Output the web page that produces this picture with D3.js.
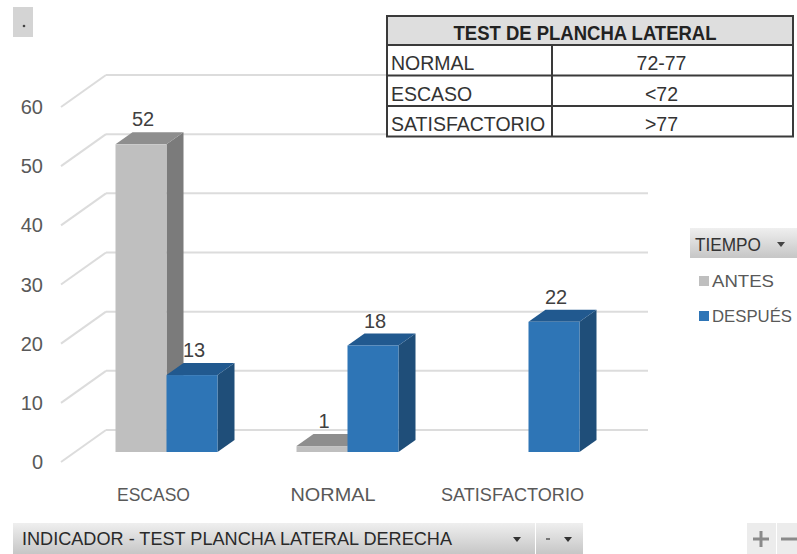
<!DOCTYPE html>
<html>
<head>
<meta charset="utf-8">
<script src="https://cdn.jsdelivr.net/npm/d3@7"></script>
<style>
  html, body { margin: 0; padding: 0; background: #fff; }
  svg { display: block; font-family: "Liberation Sans", Arial, sans-serif; }
</style>
</head>
<body>
<svg id="chart" width="797" height="554"></svg>
<script>
// Pivot chart data: test de plancha lateral, antes / después
const categories = ["ESCASO", "NORMAL", "SATISFACTORIO"];
const series = ["ANTES", "DESPUÉS"];
const antes = [52, 1, null];
const despues = [13, 18, 22];
const yTicks = [0, 10, 20, 30, 40, 50, 60];

// Reference table rows
const tableTitle = "TEST DE PLANCHA LATERAL";
const tableLabels = ["NORMAL", "ESCASO", "SATISFACTORIO"];
const tableRanges = ["72-77", "<72", ">77"];

const filterLabel = "INDICADOR - TEST PLANCHA LATERAL DERECHA";
const legendTitle = "TIEMPO";

const svg = d3.select("#chart");

const colors = {
  ANTES:     { front: "#bfbfbf", top: "#8e8e8e", side: "#7b7b7b" },
  "DESPUÉS": { front: "#2e75b6", top: "#21598f", side: "#1f4e79" }
};

// 3D depth offset for the bar boxes
const depthX = 17, depthY = -12;

const y = d3.scaleLinear().domain([0, 60]).range([452, 97]);
const x0 = d3.scaleBand().domain(categories).range([76, 619]).paddingInner(0).paddingOuter(0);
const barW = 51;
const x1 = d3.scaleBand().domain(series).range([0, barW * 2]);

// Back-wall gridlines with perspective floor diagonals
const grid = svg.append("g").attr("stroke", "#dcdcdc").attr("stroke-width", 2).attr("fill", "none");
yTicks.forEach(v => {
  const yb = y(v) - 22;
  grid.append("line").attr("x1", 61).attr("y1", y(v) + 10).attr("x2", 106).attr("y2", yb);
  grid.append("line").attr("x1", 106).attr("y1", yb).attr("x2", 648).attr("y2", yb);
});

// Y axis labels
svg.append("g").selectAll("text").data(yTicks).join("text")
  .attr("x", 43).attr("y", d => y(d) + 17)
  .attr("text-anchor", "end")
  .attr("font-size", 20).attr("fill", "#595959")
  .text(d => d);

// Bars as 3D boxes
const rows = [];
categories.forEach((c, i) => {
  [["ANTES", antes[i]], ["DESPUÉS", despues[i]]].forEach(([s, v]) => {
    if (v == null) return;
    rows.push({ c, s, v });
  });
});

const bars = svg.append("g");
rows.forEach(d => {
  const left = x0(d.c) + x0.bandwidth() / 2 - barW + x1(d.s);
  const right = left + x1.bandwidth();
  const top = y(d.v), bottom = y(0);
  const col = colors[d.s];
  const g = bars.append("g");
  g.append("path")
    .attr("d", `M${right},${bottom} L${right + depthX},${bottom + depthY} L${right + depthX},${top + depthY} L${right},${top} Z`)
    .attr("fill", col.side);
  g.append("path")
    .attr("d", `M${left},${top} L${left + depthX},${top + depthY} L${right + depthX},${top + depthY} L${right},${top} Z`)
    .attr("fill", col.top);
  g.append("rect")
    .attr("x", left).attr("y", top)
    .attr("width", right - left).attr("height", bottom - top)
    .attr("fill", col.front);
  g.append("text")
    .attr("x", (left + right) / 2 + 2).attr("y", top - 18)
    .attr("text-anchor", "middle")
    .attr("font-size", 20).attr("fill", "#404040")
    .text(d.v);
});

// Category labels (condensed to the pivot chart's narrow face)
const catWidths = [73, 85, 143];
svg.append("g").selectAll("text").data(categories).join("text")
  .attr("x", (d, i) => x0(d) + x0.bandwidth() / 2 - 13 - i * 1.5)
  .attr("y", 501)
  .attr("text-anchor", "middle")
  .attr("font-size", 19).attr("fill", "#595959")
  .attr("textLength", (d, i) => catWidths[i]).attr("lengthAdjust", "spacingAndGlyphs")
  .text(d => d);

// Reference table
const tbl = svg.append("g").attr("font-size", 19.5).attr("fill", "#1a1a1a");
const tX = 387, tR = 793, tDiv = 552, tTop = 16, tHead = 45;
const rowH = 30.5;
tbl.append("rect").attr("x", tX).attr("y", tTop).attr("width", tR - tX).attr("height", tHead - tTop)
  .attr("fill", "#dedede");
tbl.append("rect").attr("x", tX).attr("y", tHead).attr("width", tR - tX).attr("height", rowH * 3)
  .attr("fill", "#fff");
tbl.append("text").attr("x", (tX + tR) / 2 - 5).attr("y", tHead - 5).attr("text-anchor", "middle")
  .attr("font-weight", "bold").attr("fill", "#222")
  .attr("textLength", 263).attr("lengthAdjust", "spacingAndGlyphs").text(tableTitle);
tableLabels.forEach((lab, i) => {
  const ry = tHead + i * rowH;
  tbl.append("text").attr("x", tX + 4).attr("y", ry + 25).attr("fill", "#333").text(lab);
  tbl.append("text").attr("x", (tDiv + tR) / 2 - 11).attr("y", ry + 25).attr("text-anchor", "middle").attr("fill", "#333").text(tableRanges[i]);
});
const tl = svg.append("g").attr("stroke", "#3a3a3a").attr("stroke-width", 2).attr("fill", "none");
tl.append("rect").attr("x", tX).attr("y", tTop).attr("width", tR - tX).attr("height", tHead - tTop + rowH * 3);
[0, 1, 2].forEach(i => {
  tl.append("line").attr("x1", tX).attr("x2", tR).attr("y1", tHead + i * rowH).attr("y2", tHead + i * rowH);
});
tl.append("line").attr("x1", tDiv).attr("x2", tDiv).attr("y1", tHead).attr("y2", tHead + rowH * 3);

// Gradients for the pivot buttons
const defs = svg.append("defs");
const grad = defs.append("linearGradient").attr("id", "btn").attr("x1", 0).attr("y1", 0).attr("x2", 0).attr("y2", 1);
grad.append("stop").attr("offset", "0%").attr("stop-color", "#efefef");
grad.append("stop").attr("offset", "100%").attr("stop-color", "#c6c6c6");

// Top-left field button
svg.append("rect").attr("x", 13).attr("y", 7).attr("width", 20).attr("height", 30).attr("fill", "#d4d4d4");
svg.append("circle").attr("cx", 24).attr("cy", 26).attr("r", 1.3).attr("fill", "#444");

// Legend
const leg = svg.append("g");
leg.append("rect").attr("x", 690).attr("y", 228).attr("width", 107).attr("height", 30).attr("fill", "url(#btn)");
leg.append("text").attr("x", 695).attr("y", 251).attr("font-size", 18).attr("fill", "#333")
  .attr("textLength", 66).attr("lengthAdjust", "spacingAndGlyphs").text(legendTitle);
leg.append("path").attr("d", "M777,242 L785,242 L781,247 Z").attr("fill", "#444");
const legW = [62, 80];
series.forEach((s, i) => {
  const ly = 287 + i * 35;
  leg.append("rect").attr("x", 699).attr("y", ly - 11).attr("width", 10).attr("height", 10).attr("fill", colors[s].front);
  leg.append("text").attr("x", 712).attr("y", ly).attr("font-size", 17).attr("fill", "#595959")
    .attr("textLength", legW[i]).attr("lengthAdjust", "spacingAndGlyphs").text(s);
});

// Bottom filter buttons
const bot = svg.append("g");
bot.append("rect").attr("x", 13).attr("y", 523).attr("width", 522).attr("height", 31).attr("fill", "url(#btn)");
bot.append("text").attr("x", 22).attr("y", 545).attr("font-size", 18).attr("fill", "#2a2a2a")
  .attr("textLength", 430).attr("lengthAdjust", "spacingAndGlyphs").text(filterLabel);
bot.append("path").attr("d", "M513,537 L521,537 L517,542 Z").attr("fill", "#333");
bot.append("rect").attr("x", 536).attr("y", 523).attr("width", 47).attr("height", 31).attr("fill", "url(#btn)");
bot.append("line").attr("x1", 546).attr("x2", 550).attr("y1", 539).attr("y2", 539).attr("stroke", "#555").attr("stroke-width", 1.5);
bot.append("path").attr("d", "M564,537 L572,537 L568,542 Z").attr("fill", "#333");
bot.append("rect").attr("x", 747).attr("y", 523).attr("width", 29).attr("height", 31).attr("fill", "#ececec");
bot.append("rect").attr("x", 777).attr("y", 523).attr("width", 20).attr("height", 31).attr("fill", "#ececec");
const pm = bot.append("g").attr("stroke", "#8a8a8a").attr("stroke-width", 3);
pm.append("line").attr("x1", 753).attr("x2", 769).attr("y1", 539).attr("y2", 539);
pm.append("line").attr("x1", 761).attr("x2", 761).attr("y1", 531).attr("y2", 547);
pm.append("line").attr("x1", 781).attr("x2", 797).attr("y1", 539).attr("y2", 539);
</script>
</body>
</html>
